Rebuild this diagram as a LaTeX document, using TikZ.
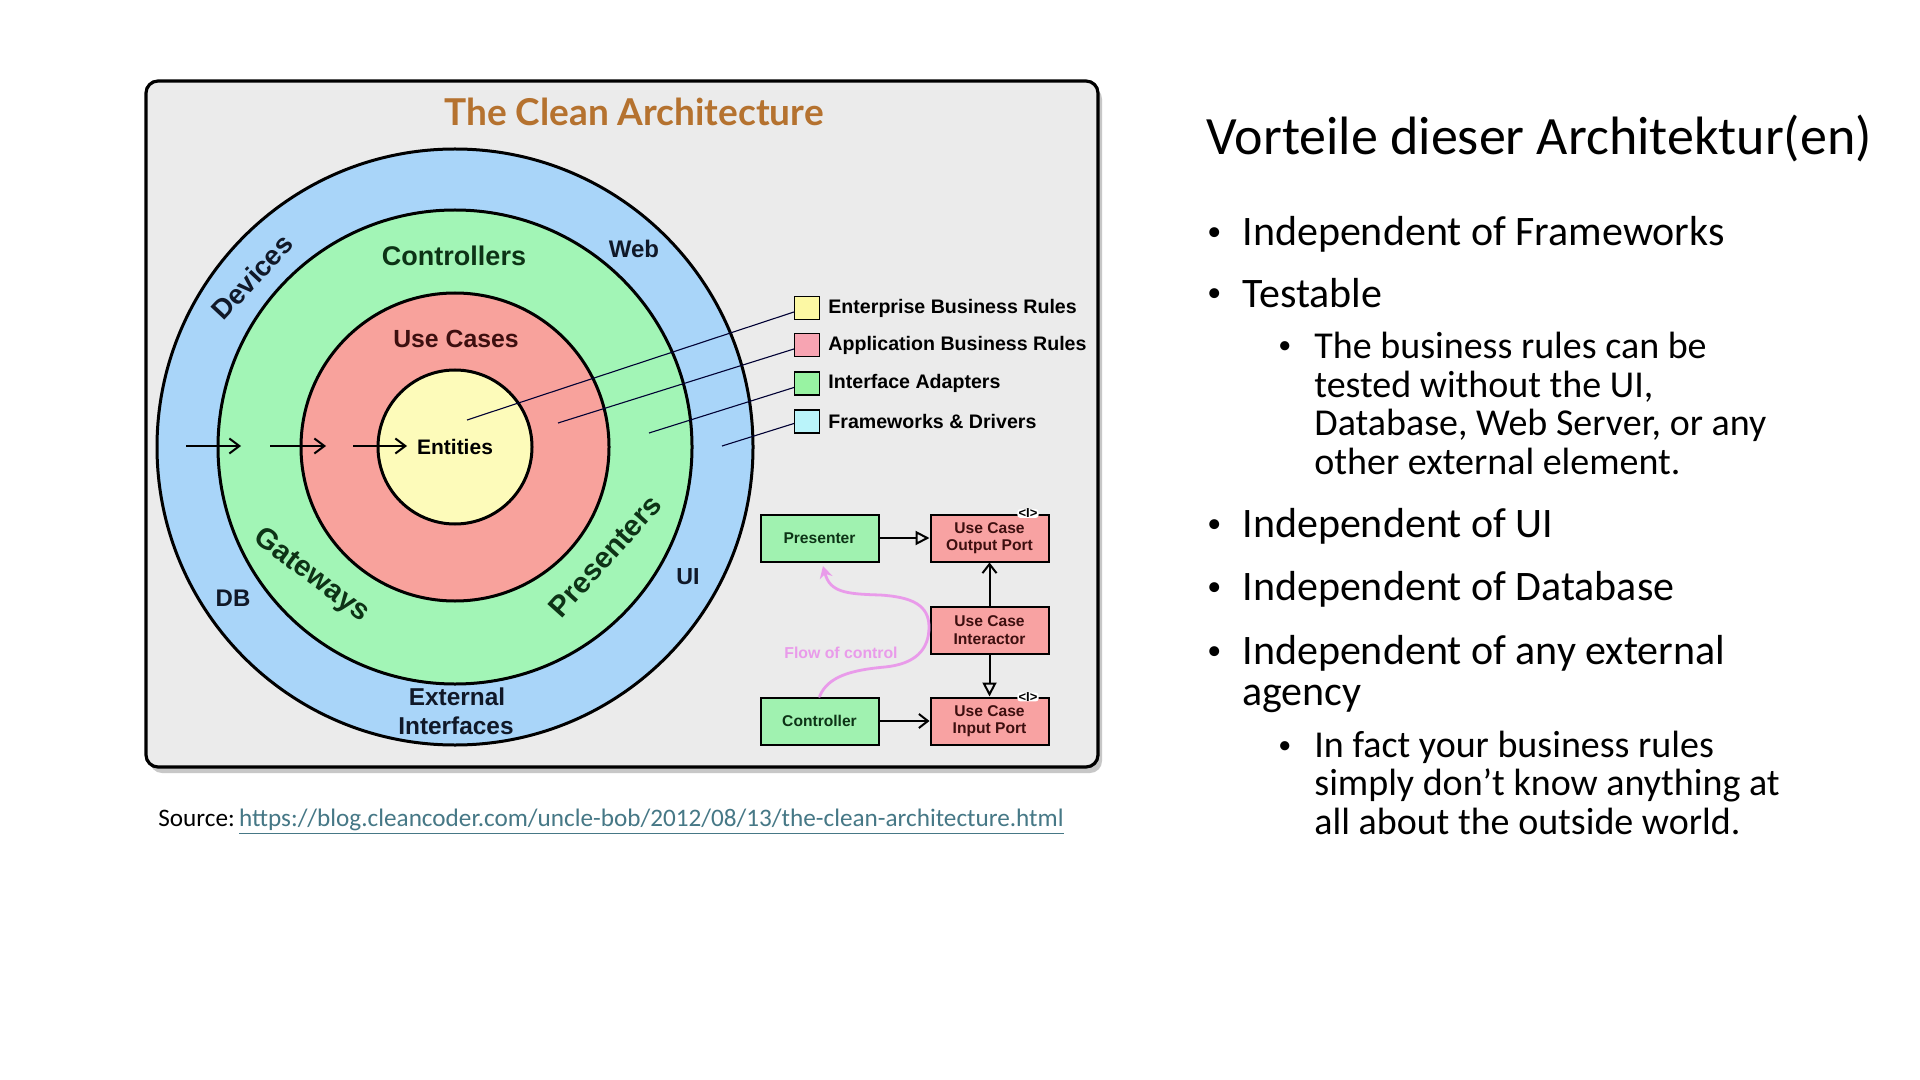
\documentclass[tikz,border=0pt]{standalone}
\usepackage{fontspec}
\setmainfont{Carlito}
\newfontfamily\dfont{Liberation Sans}
\newfontfamily\tfont{Lato}
\usetikzlibrary{arrows.meta}
\definecolor{panelbg}{HTML}{EBEBEB}
\definecolor{ringblue}{HTML}{A9D5F9}
\definecolor{ringgreen}{HTML}{A2F5B6}
\definecolor{ringred}{HTML}{F8A29C}
\definecolor{ringyellow}{HTML}{FDFBBA}
\definecolor{legyellow}{HTML}{FCF8A4}
\definecolor{legpink}{HTML}{F7A4B2}
\definecolor{leggreen}{HTML}{98F3A2}
\definecolor{legcyan}{HTML}{BAF4FA}
\definecolor{titlebrown}{HTML}{B5722F}
\definecolor{flowpink}{HTML}{E99BEA}
\definecolor{linkcol}{HTML}{467886}
\definecolor{boxgreen}{HTML}{A0F2B0}
\definecolor{boxred}{HTML}{F8A2A2}
\definecolor{ctrgreen}{HTML}{0D3316}
\definecolor{ucred}{HTML}{3D0F0F}
\definecolor{outertxt}{HTML}{101828}
\tikzset{
  ringlbl/.style={inner sep=0pt},
  rf/.style={font=\dfont\bfseries\fontsize{#1}{#1}\selectfont},
  legbox/.style={draw=black, line width=0.6pt, minimum width=12.5pt, minimum height=11.5pt, inner sep=0pt},
  legtxt/.style={font=\dfont\bfseries\fontsize{9.8}{11}\selectfont, anchor=west, inner sep=0pt},
  legline/.style={line width=0.55pt, draw=black!80!blue},
  flowbox/.style={draw=black, line width=1pt, minimum width=59pt, minimum height=23.5pt, inner sep=0pt, align=center, font=\dfont\bfseries\fontsize{7.8}{8.8}\selectfont},
  gbox/.style={flowbox, fill=boxgreen, text=ctrgreen},
  rbox/.style={flowbox, fill=boxred, text=ucred},
  iface/.style={fill=white, inner xsep=0.6pt, inner ysep=0pt, rounded corners=1.5pt, font=\dfont\bfseries\fontsize{6.5}{6.5}\selectfont},
  mainline/.style={font=\fontsize{21}{24}\selectfont, anchor=base west, inner sep=0pt},
  subline/.style={font=\fontsize{19}{22}\selectfont, anchor=base west, inner sep=0pt},
  mainbullet/.style={font=\fontsize{14}{14}\selectfont, anchor=base west, inner sep=0pt},
  subbullet/.style={font=\fontsize{13}{13}\selectfont, anchor=base west, inner sep=0pt},
  barbarrow/.style={line width=1pt, -{Straight Barb[length=4.5pt,width=7pt]}},
  triarrow/.style={line width=1pt, -{Triangle[open,length=7pt,width=7pt]}},
  ringarrow/.style={line width=1pt, -{Straight Barb[length=5pt,width=7.5pt]}},
  flowline/.style={draw=flowpink, line width=1.4pt, line cap=round, -{Stealth[length=6pt,width=6.5pt,fill=flowpink]}}
}
\begin{document}
\begin{tikzpicture}[x=0.5pt,y=-0.5pt]
\fill[white] (0,0) rectangle (1920,1080);
\useasboundingbox (0,0) rectangle (1920,1080);

% panel with shadow
\fill[black!22, rounded corners=6pt] (150,87) rectangle (1102,773);
\draw[line width=1.6pt, fill=panelbg, rounded corners=6pt] (146,81) rectangle (1098,767);

\node[font=\tfont\bfseries\fontsize{18.5}{21}\selectfont, text=titlebrown, inner sep=0pt] (title) at (634,112) {The Clean Architecture};

% rings
\coordinate (c) at (455,447);
\draw[line width=1.5pt, fill=ringblue] (c) circle[radius=298];
\draw[line width=1.5pt, fill=ringgreen] (c) circle[radius=237];
\draw[line width=1.5pt, fill=ringred] (c) circle[radius=154];
\draw[line width=1.5pt, fill=ringyellow] (c) circle[radius=77];

% ring labels
\node[ringlbl, rf=13.8, text=outertxt, rotate=47] (devices) at (252,277) {Devices};
\node[ringlbl, rf=12, text=outertxt] (web) at (634,249) {Web};
\node[ringlbl, rf=13.5, text=ctrgreen] (controllers) at (454,256) {Controllers};
\node[ringlbl, rf=12.4, text=ucred] (usecases) at (456,339) {Use Cases};
\node[ringlbl, rf=10.5, text=black] (entities) at (455,447) {Entities};
\node[ringlbl, rf=14.6, text=ctrgreen, rotate=-37] (gateways) at (311,576) {Gateways};
\node[ringlbl, rf=14.7, text=ctrgreen, rotate=48] (presenters) at (605,556) {Presenters};
\node[ringlbl, rf=12, text=outertxt] (db) at (233,598) {DB};
\node[ringlbl, rf=11.6, text=outertxt] (ui) at (688,577) {UI};
\node[ringlbl, rf=12.2, text=outertxt] (external) at (457,697) {External};
\node[ringlbl, rf=12.2, text=outertxt] (interfaces) at (456,726) {Interfaces};

% ring arrows
\coordinate (a1s) at (186,446); \coordinate (a1e) at (241,446);
\coordinate (a2s) at (270,446); \coordinate (a2e) at (326,446);
\coordinate (a3s) at (353,446); \coordinate (a3e) at (407,446);
\draw[ringarrow] (a1s) -- (a1e);
\draw[ringarrow] (a2s) -- (a2e);
\draw[ringarrow] (a3s) -- (a3e);

% legend
\node[legbox, fill=legyellow] (ley) at (807,308) {};
\node[legbox, fill=legpink] (lep) at (807,345) {};
\node[legbox, fill=leggreen] (leg) at (807,383.5) {};
\node[legbox, fill=legcyan] (lec) at (807,421.5) {};
\node[legtxt] (lty) at (828,308) {Enterprise Business Rules};
\node[legtxt] (ltp) at (828,345) {Application Business Rules};
\node[legtxt] (ltg) at (828,383.5) {Interface Adapters};
\node[legtxt] (ltc) at (828,421.5) {Frameworks \& Drivers};
\coordinate (py) at (467,420);
\coordinate (pp) at (558,423);
\coordinate (pg) at (649,433);
\coordinate (pc) at (722,446);
\draw[legline] ([yshift=-2pt]ley.west) -- (py);
\draw[legline] ([yshift=-2pt]lep.west) -- (pp);
\draw[legline] ([yshift=-2pt]leg.west) -- (pg);
\draw[legline] ([yshift=-1pt]lec.west) -- (pc);

% flow diagram
\node[gbox] (presenter) at (819.5,538) {Presenter};
\node[rbox] (outport) at (989.5,538) {Use Case\\Output Port};
\node[rbox] (interactor) at (989.5,630) {Use Case\\Interactor};
\node[gbox] (controller) at (819.5,721) {Controller};
\node[rbox] (inport) at (989.5,721) {Use Case\\Input Port};
\node[iface] (ifout) at (1028,513.5) {\textless I\textgreater};
\node[iface] (ifin) at (1028,697) {\textless I\textgreater};
\draw[triarrow] (presenter) -- (outport);
\draw[barbarrow] (interactor) -- (outport);
\draw[triarrow] (interactor) -- (inport);
\draw[barbarrow] (controller) -- (inport);

\coordinate (fcend) at (823,566);
\draw[flowline] (controller.north) .. controls (828,676) and (852,670) .. (885,667)
   .. controls (915,664) and (929,650) .. (929,627)
   .. controls (929,605) and (912,597) .. (880,595)
   .. controls (845,594) and (830,592) .. (fcend);
\node[font=\dfont\bfseries\fontsize{7.9}{8}\selectfont, text=flowpink, inner sep=0pt] (foc) at (841,653) {Flow of control};

% source
\node[font=\fontsize{12.6}{14}\selectfont, anchor=base west, inner sep=0pt] (src) at (158,826) {Source:\,\textcolor{linkcol}{\underline{https://blog.cleancoder.com/uncle-bob/2012/08/13/the-clean-architecture.html}}};

% right text
\node[font=\fontsize{27}{30}\selectfont, anchor=base west, inner sep=0pt] (head) at (1206,155) {Vorteile dieser Architektur(en)};

\node[mainbullet] (b1) at (1207,241) {•};
\node[mainline] (t1) at (1242,246) {Independent of Frameworks};
\node[mainbullet] (b2) at (1207,302) {•};
\node[mainline] (t2) at (1242,307) {Testable};
\node[subbullet] (s1) at (1278,354) {•};
\node[subline] (s1a) at (1314,358) {The business rules can be};
\node[subline] (s1b) at (1314,397) {tested without the UI,};
\node[subline] (s1c) at (1314,435) {Database, Web Server, or any};
\node[subline] (s1d) at (1314,474) {other external element.};
\node[mainbullet] (b3) at (1207,532) {•};
\node[mainline] (t3) at (1242,537) {Independent of UI};
\node[mainbullet] (b4) at (1207,595) {•};
\node[mainline] (t4) at (1242,600) {Independent of Database};
\node[mainbullet] (b5) at (1207,659) {•};
\node[mainline] (t5a) at (1242,664) {Independent of any external};
\node[mainline] (t5b) at (1242,705) {agency};
\node[subbullet] (s2) at (1278,753) {•};
\node[subline] (s2a) at (1314,757) {In fact your business rules};
\node[subline] (s2b) at (1314,795) {simply don’t know anything at};
\node[subline] (s2c) at (1314,834) {all about the outside world.};
\end{tikzpicture}
\end{document}
